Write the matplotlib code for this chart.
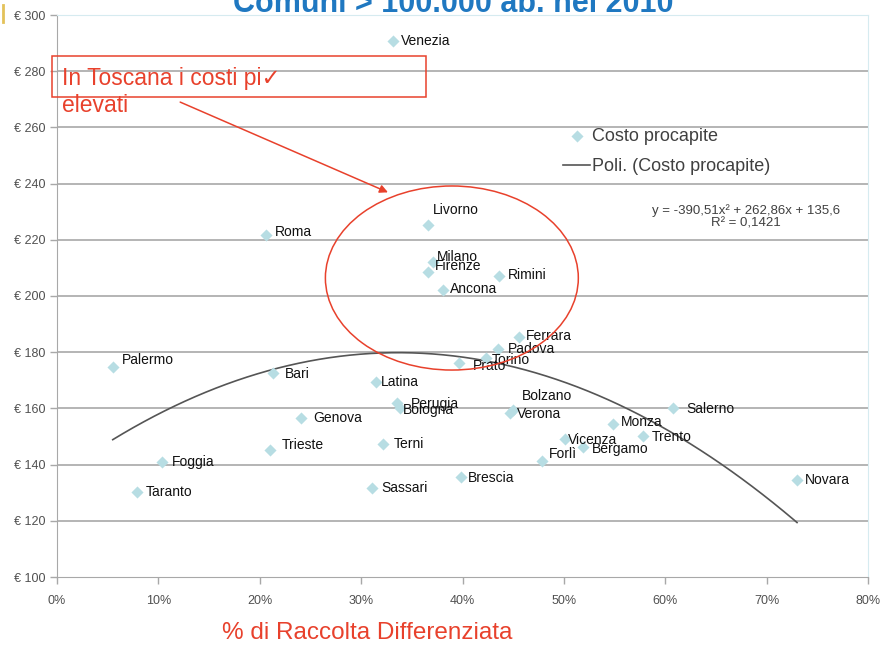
import matplotlib
matplotlib.use("Agg")
import matplotlib.pyplot as plt
import numpy as np
from matplotlib.patches import Ellipse, Rectangle
from matplotlib.lines import Line2D

# Comuni > 100.000 abitanti: % raccolta differenziata e costo procapite (2010)
cities = ["Venezia", "Roma", "Livorno", "Milano", "Firenze", "Rimini", "Ancona",
          "Ferrara", "Padova", "Torino", "Prato", "Palermo", "Bari", "Latina",
          "Perugia", "Bologna", "Verona", "Bolzano", "Salerno", "Genova", "Monza",
          "Trento", "Vicenza", "Bergamo", "Terni", "Trieste", "Forlì", "Foggia",
          "Brescia", "Novara", "Sassari", "Taranto"]
raccolta = [0.331, 0.206, 0.366, 0.371, 0.366, 0.436, 0.381,
            0.456, 0.435, 0.423, 0.397, 0.055, 0.213, 0.315,
            0.335, 0.338, 0.447, 0.450, 0.608, 0.241, 0.548,
            0.578, 0.501, 0.519, 0.322, 0.210, 0.478, 0.104,
            0.399, 0.730, 0.311, 0.079]
costo = [290.7, 221.7, 225.3, 212.1, 208.5, 207.1, 202.1,
         185.4, 181.1, 178.0, 176.2, 174.7, 172.6, 169.4,
         162.0, 160.1, 158.4, 159.3, 160.1, 156.6, 154.4,
         150.2, 149.1, 146.3, 147.3, 145.2, 141.3, 140.9,
         135.6, 134.5, 131.7, 130.2]

# polinomio di secondo grado (linea di tendenza)
poly_a, poly_b, poly_c = -390.51, 262.86, 135.6
r2 = 0.1421

xticks = [0.0, 0.1, 0.2, 0.3, 0.4, 0.5, 0.6, 0.7, 0.8]
yticks = [100, 120, 140, 160, 180, 200, 220, 240, 260, 280, 300]

# spostamento etichette (pixel: destra, su)
label_shift = {
    "Venezia": (8, 0), "Roma": (9, 3), "Livorno": (5, 15), "Milano": (4, 5),
    "Firenze": (7, 6), "Rimini": (9, 1), "Ancona": (7, 1), "Ferrara": (7, 1),
    "Padova": (10, 0), "Torino": (6, -2), "Prato": (13, -3), "Palermo": (9, 7),
    "Bari": (12, -1), "Latina": (5, 0), "Perugia": (14, -1), "Bologna": (3, -2),
    "Verona": (7, -1), "Bolzano": (9, 14), "Salerno": (13, -1), "Genova": (12, 0),
    "Monza": (8, 2), "Trento": (9, -1), "Vicenza": (3, -1), "Bergamo": (9, -2),
    "Terni": (10, 0), "Trieste": (12, 5), "Forlì": (7, 7), "Foggia": (9, 0),
    "Brescia": (6, -1), "Novara": (8, 0), "Sassari": (9, 0), "Taranto": (9, 0),
}

narrow = ["Liberation Sans Narrow", "Liberation Sans", "DejaVu Sans"]
plain = ["Liberation Sans", "DejaVu Sans"]
red = "#e8412c"
dot_color = "#b7dde3"

W, H = 882, 648
fig = plt.figure(figsize=(W / 100, H / 100), dpi=100)
fig.patch.set_facecolor("white")
ax = fig.add_axes([57 / W, 1 - 577 / H, (868 - 57) / W, (577 - 15) / H])

ax.set_xlim(0, 0.8)
ax.set_ylim(100, 300)

for v in yticks[1:-1]:
    ax.axhline(v, color="#a8a8a8", lw=1.2, zorder=0)

ax.spines["left"].set_color("#a8a8a8")
ax.spines["bottom"].set_color("#a8a8a8")
ax.spines["top"].set_color("#d6ebf0")
ax.spines["right"].set_color("#d6ebf0")

ax.set_xticks(xticks)
ax.set_xticklabels([f"{int(round(v * 100))}%" for v in xticks])
ax.set_yticks(yticks)
ax.set_yticklabels([f"€ {v}" for v in yticks])
ax.tick_params(axis="both", colors="#a8a8a8", labelcolor="#505050",
               labelsize=9, length=5, width=1)
ax.tick_params(axis="x", pad=8)
for lab in ax.get_xticklabels() + ax.get_yticklabels():
    lab.set_family(narrow)

# punti
pts = ax.scatter(raccolta, costo, marker="D", s=38, color=dot_color,
                 linewidths=0, zorder=3, label="Costo procapite")

for name, x, y in zip(cities, raccolta, costo):
    dx, dy = label_shift[name]
    ax.annotate(name, (x, y), xytext=(dx * 0.72, dy * 0.72),
                textcoords="offset points", ha="left", va="center",
                fontsize=10, color="#111111", family=narrow, zorder=4)

# linea di tendenza polinomiale
xs = np.linspace(min(raccolta), max(raccolta), 200)
trend, = ax.plot(xs, poly_a * xs ** 2 + poly_b * xs + poly_c, color="#555555",
                 lw=1.2, zorder=2, label="Poli. (Costo procapite)")

ax.legend(handles=[pts, trend], loc="upper left",
          bbox_to_anchor=(563 / W, 1 - 128 / H), bbox_transform=fig.transFigure,
          frameon=False, borderpad=0, borderaxespad=0, handlelength=1.5,
          handletextpad=0.1, labelspacing=0.72, prop={"family": plain, "size": 13},
          labelcolor="#404040")

ax.text(746 / W, 1 - 217 / H,
        f"y = {poly_a:.2f}x² + {poly_b:.2f}x + {poly_c:.1f}".replace(".", ",")
        + "\n" + f"R² = {r2:.4f}".replace(".", ","),
        transform=fig.transFigure, ha="center", va="center", fontsize=9.5,
        family=plain, color="#404040", linespacing=1.0)

# evidenziazione Toscana
ax.add_patch(Ellipse((0.3895, 206.4), 0.2495, 65.5, fill=False, edgecolor=red,
                     lw=1.1, zorder=5))
fig.patches.append(Rectangle((52 / W, 1 - 97 / H), (426 - 52) / W, (97 - 56) / H,
                             transform=fig.transFigure, fill=False,
                             edgecolor=red, lw=1.1))
fig.text(62 / W, 1 - 78 / H, "In Toscana i costi pi✓", ha="left", va="center",
         fontsize=16.5, color=red, family=plain)
fig.text(62 / W, 1 - 106 / H, "elevati", ha="left", va="center",
         fontsize=16.5, color=red, family=plain)
ax.annotate("", xy=(0.329, 236.5), xytext=(0.119, 269.4),
            arrowprops=dict(arrowstyle="-|>", color=red, lw=1.1,
                            mutation_scale=12), zorder=5)

# titolo e asse x
fig.text(453 / W, 1 - 12 / H, "Comuni > 100.000 ab. nel 2010", ha="center",
         va="baseline", fontsize=22, fontweight="bold", color="#1f78c1",
         family=plain)
fig.text(367 / W, 1 - 633 / H, "% di Raccolta Differenziata", ha="center",
         va="center", fontsize=17.5, color=red, family=plain)
fig.lines.append(Line2D([3 / W, 3 / W], [1 - 5 / H, 1 - 22 / H],
                        transform=fig.transFigure, color="#e3c25a", lw=2))

fig.savefig("out.png", dpi=100)
